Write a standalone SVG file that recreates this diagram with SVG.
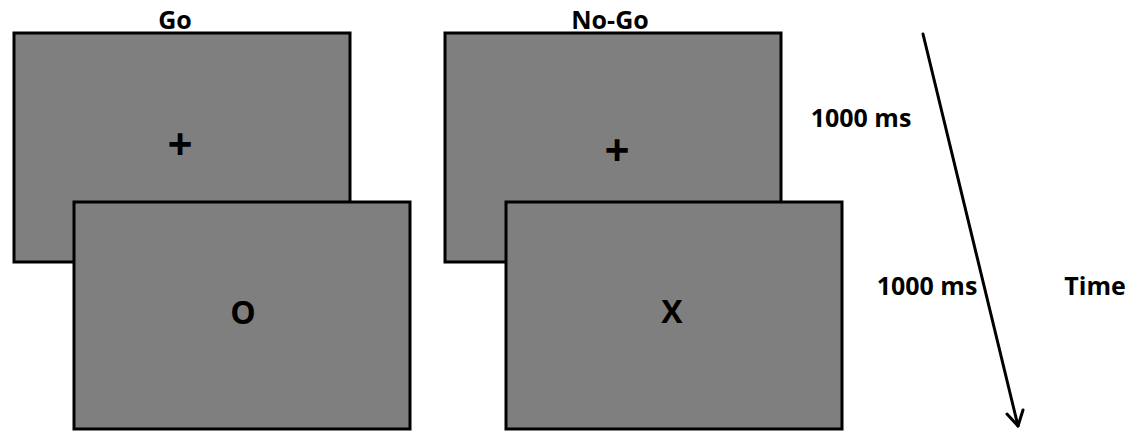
<svg xmlns="http://www.w3.org/2000/svg" width="1133" height="432" viewBox="0 0 1133 432">
  <style>
    .screen { fill: #7f7f7f; stroke: #000; stroke-width: 3; }
    .label { font-family: "Open Sans", "Liberation Sans", sans-serif; font-weight: bold; font-size: 25px; fill: #000; }
    .stim { font-family: "Open Sans", "Liberation Sans", sans-serif; font-weight: bold; font-size: 32px; fill: #000; text-anchor: middle; }
    .fix { font-family: "Open Sans", "Liberation Sans", sans-serif; font-weight: bold; font-size: 44px; fill: #000; text-anchor: middle; }
    .axis { fill: none; stroke: #000; stroke-width: 3; stroke-linecap: round; stroke-linejoin: round; }
  </style>
  <rect width="1133" height="432" fill="#fff"/>

  <!-- Go condition: fixation screen, then stimulus screen -->
  <g id="go-fixation">
    <rect class="screen" x="14" y="33" width="336" height="229"/>
    <text class="fix" x="180" y="160">+</text>
  </g>
  <text id="go-title" class="label" x="175" y="29" text-anchor="middle">Go</text>
  <g id="go-stimulus">
    <rect class="screen" x="74" y="202" width="336" height="227"/>
    <text class="stim" x="243" y="324">O</text>
  </g>

  <!-- No-Go condition -->
  <g id="nogo-fixation">
    <rect class="screen" x="445" y="33" width="336" height="229"/>
    <text class="fix" x="617" y="166">+</text>
  </g>
  <text id="nogo-title" class="label" x="610" y="29" text-anchor="middle">No-Go</text>
  <g id="nogo-stimulus">
    <rect class="screen" x="506" y="202" width="336" height="227"/>
    <text class="stim" x="672" y="323">X</text>
  </g>

  <!-- Durations and time axis -->
  <text id="dur-fixation" class="label" x="861" y="127" text-anchor="middle">1000 ms</text>
  <text id="dur-stimulus" class="label" x="927" y="295" text-anchor="middle">1000 ms</text>
  <text id="time-label" class="label" x="1095" y="295" text-anchor="middle">Time</text>

  <g id="connectors">
    <path class="axis" d="M923 34 L1018 426"/>
    <path class="axis" d="M1007 414 L1018 426 L1023 410"/>
  </g>
</svg>
